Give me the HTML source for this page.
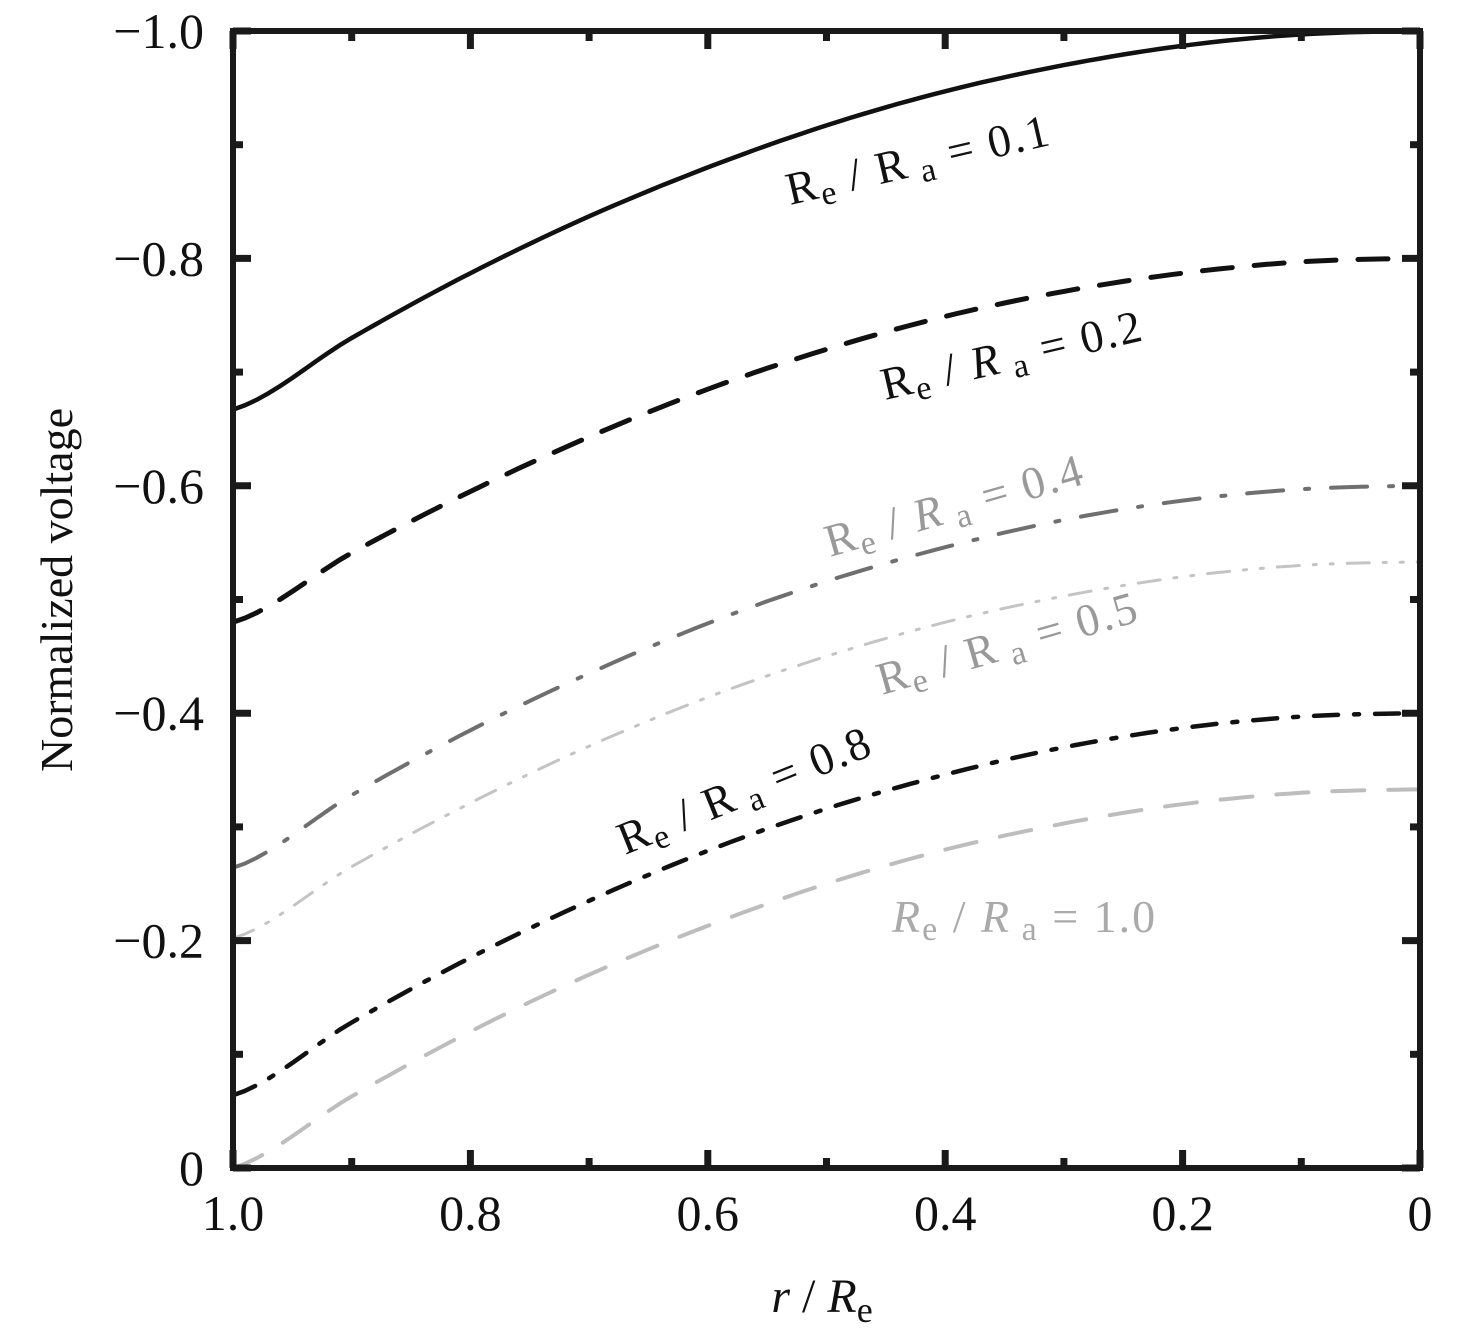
<!DOCTYPE html>
<html><head><meta charset="utf-8"><style>
html,body{margin:0;padding:0;background:#fff;}
svg{display:block;font-family:"Liberation Serif",serif;}
</style></head><body>
<svg id="chart" width="1476" height="1336" viewBox="0 0 1476 1336" xmlns="http://www.w3.org/2000/svg">
<g id="series"></g>
<g id="axes"></g>
<g id="labels" font-size="46" letter-spacing="2">
<text transform="translate(790,205) rotate(-13)" fill="#111">R<tspan font-size="34" dy="8">e</tspan><tspan dy="-8"> / R</tspan><tspan font-size="34" dy="8"> a</tspan><tspan dy="-8"> = 0.1</tspan></text>
<text transform="translate(885,400) rotate(-13)" fill="#111">R<tspan font-size="34" dy="8">e</tspan><tspan dy="-8"> / </tspan><tspan font-style="italic">R</tspan><tspan font-size="34" dy="8"> a</tspan><tspan dy="-8"> = 0.2</tspan></text>
<text transform="translate(830,557) rotate(-16)" fill="#999">R<tspan font-size="34" dy="8">e</tspan><tspan dy="-8"> / </tspan><tspan font-style="italic">R</tspan><tspan font-size="34" dy="8"> a</tspan><tspan dy="-8"> = 0.4</tspan></text>
<text transform="translate(882,695) rotate(-16)" fill="#999">R<tspan font-size="34" dy="8">e</tspan><tspan dy="-8"> / R</tspan><tspan font-size="34" dy="8"> a</tspan><tspan dy="-8"> = 0.5</tspan></text>
<text transform="translate(625,855) rotate(-22)" fill="#111">R<tspan font-size="34" dy="8">e</tspan><tspan dy="-8"> / R</tspan><tspan font-size="34" dy="8"> a</tspan><tspan dy="-8"> = 0.8</tspan></text>
<text x="892" y="932" fill="#aaa"><tspan font-style="italic">R</tspan><tspan font-size="34" dy="8">e</tspan><tspan dy="-8"> / </tspan><tspan font-style="italic">R</tspan><tspan font-size="34" dy="8"> a</tspan><tspan dy="-8"> = 1.0</tspan></text>
</g>
<text x="822" y="1312" font-size="48" text-anchor="middle" fill="#111"><tspan font-style="italic">r</tspan> / <tspan font-style="italic">R</tspan><tspan font-size="36" dy="10">e</tspan></text>
<text transform="translate(72,590) rotate(-90)" font-size="46" text-anchor="middle" fill="#111">Normalized voltage</text>
</svg>
<script>
const rValues=[1.0,0.9,0.8,0.7,0.6,0.5,0.4,0.3,0.2,0.1,0.0];
const s01=[0.667,0.730,0.787,0.837,0.880,0.917,0.947,0.970,0.987,0.997,1.0];
const s02=[0.48,0.541,0.595,0.643,0.685,0.72,0.749,0.771,0.787,0.797,0.8];
const s04=[0.264,0.328,0.385,0.435,0.479,0.516,0.546,0.570,0.587,0.597,0.6];
const s05=[0.202,0.265,0.321,0.371,0.414,0.450,0.480,0.503,0.520,0.530,0.533];
const s08=[0.064,0.128,0.185,0.235,0.279,0.316,0.346,0.370,0.387,0.397,0.4];
const s10=[0,0.063,0.120,0.170,0.213,0.250,0.280,0.303,0.320,0.330,0.333];
const xTicks=[1.0,0.8,0.6,0.4,0.2,0];
const xTickLabels=["1.0","0.8","0.6","0.4","0.2","0"];
const yTicks=[-1.0,-0.8,-0.6,-0.4,-0.2,0];
const yTickLabels=["\u22121.0","\u22120.8","\u22120.6","\u22120.4","\u22120.2","0"];
var PL=233,PR=1420,PT=31,PB=1168;
function xs(v){return PR-v*(PR-PL);}
function ys(v){return PB-v*(PB-PT);}
var NS="http://www.w3.org/2000/svg";
var sg=document.getElementById('series'), ag=document.getElementById('axes');
function mk(tag,attrs,parent){var e=document.createElementNS(NS,tag);for(var k in attrs)e.setAttribute(k,attrs[k]);parent.appendChild(e);return e;}
function smoothPath(vals){
  var pts=[];
  for(var i=0;i<rValues.length-1;i++){
    for(var t=0;t<10;t++){
      var f=t/10;
      var p0=vals[Math.max(i-1,0)],p1=vals[i],p2=vals[i+1],p3=vals[Math.min(i+2,vals.length-1)];
      var v=0.5*((2*p1)+(-p0+p2)*f+(2*p0-5*p1+4*p2-p3)*f*f+(-p0+3*p1-3*p2+p3)*f*f*f);
      var r=rValues[i]+(rValues[i+1]-rValues[i])*f;
      pts.push(xs(r).toFixed(1)+','+ys(v).toFixed(1));
    }
  }
  pts.push(xs(rValues[rValues.length-1]).toFixed(1)+','+ys(vals[vals.length-1]).toFixed(1));
  return 'M'+pts.join(' L');
}
var seriesDefs=[
 {name:'series-0.1',vals:s01,stroke:'#111',w:4.5,dash:'none'},
 {name:'series-0.2',vals:s02,stroke:'#111',w:5,dash:'30 22'},
 {name:'series-0.4',vals:s04,stroke:'#6f6f6f',w:4,dash:'36 22 4 22'},
 {name:'series-0.5',vals:s05,stroke:'#c4c4c4',w:3,dash:'22 14 3 14 3 14'},
 {name:'series-0.8',vals:s08,stroke:'#111',w:4.5,dash:'24 16 5 16'},
 {name:'series-1.0',vals:s10,stroke:'#bdbdbd',w:4,dash:'32 24'}
];
seriesDefs.forEach(function(d){
  var p=mk('path',{d:smoothPath(d.vals),fill:'none',stroke:d.stroke,'stroke-width':d.w,'stroke-dasharray':d.dash,'stroke-linecap':'round'},sg);
  
  
});
var fr=mk('rect',{x:PL,y:PT,width:PR-PL,height:PB-PT,fill:'none',stroke:'#1a1a1a','stroke-width':6},ag);


for(var i=0;i<=10;i++){
  var v=i/10, major=i%2===0, len=major?18:10;
  var x=xs(v), y=ys(v);
  [[x,PB,x,PB-len],[x,PT,x,PT+len],[PL,y,PL+len,y],[PR,y,PR-len,y]].forEach(function(c){
    var t=mk('line',{x1:c[0],y1:c[1],x2:c[2],y2:c[3],stroke:'#1a1a1a','stroke-width':7},ag);
    
    
  });
}
xTicks.forEach(function(v,i){
  var t=mk('text',{x:xs(v),y:1230,'font-size':50,'text-anchor':'middle',fill:'#111'},ag);
  t.textContent=xTickLabels[i];
  
  
});
yTicks.forEach(function(v,i){
  var t=mk('text',{x:204,y:ys(-v)+17,'font-size':50,'text-anchor':'end',fill:'#111'},ag);
  t.textContent=yTickLabels[i];
  
  
});
</script>
</body></html>
